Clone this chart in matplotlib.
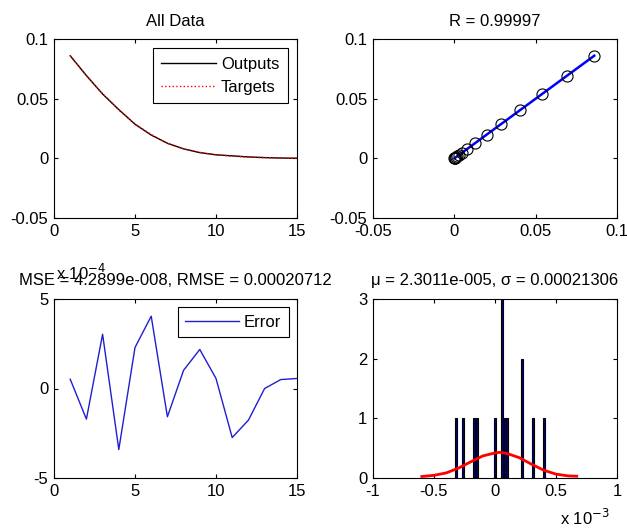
import numpy as np
import matplotlib
matplotlib.use("Agg")
import matplotlib.pyplot as plt

plt.rcParams['font.family'] = ['Liberation Sans', 'DejaVu Sans']
plt.rcParams['font.size'] = 12
plt.rcParams['axes.unicode_minus'] = False

# sample index
steps = np.arange(1, 16)

targets = np.array([0.0860, 0.0692, 0.0542, 0.0405, 0.0288, 0.0199, 0.0125, 0.0080,
                    0.0050, 0.0030, 0.0018, 0.0010, 0.0006, 0.0003, 0.0001])

# error (x 1e-4)
errors_e4 = np.array([0.52, -1.71, 3.03, -3.41, 2.29, 4.04, -1.58, 1.02,
                      2.18, 0.56, -2.74, -1.77, 0.0, 0.50, 0.56])
outputs = targets - errors_e4 * 1e-4

# histogram bars (x 1e-3) and counts
hist_centers = [-0.32, -0.26, -0.17, -0.15, 0.00, 0.06, 0.08, 0.10, 0.22, 0.31, 0.40]
hist_counts = [1, 1, 1, 1, 1, 3, 1, 1, 2, 1, 1]

# fitted normal curve (x 1e-3)
fit_x = [-0.60, -0.50, -0.40, -0.30, -0.20, -0.10, 0.00, 0.04, 0.10, 0.20, 0.30, 0.40, 0.50, 0.60, 0.67]
fit_y = [0.025, 0.045, 0.085, 0.165, 0.27, 0.37, 0.42, 0.43, 0.41, 0.34, 0.23, 0.13, 0.065, 0.035, 0.03]

fig = plt.figure(figsize=(6.27, 5.28), dpi=100)
fig.patch.set_facecolor('white')

W, H = 627.0, 528.0
def box(l, t, r, b):
    return [l / W, 1 - b / H, (r - l) / W, (b - t) / H]

ax1 = fig.add_axes(box(54, 39, 297, 218))
ax2 = fig.add_axes(box(373, 39, 617, 218))
ax3 = fig.add_axes(box(54, 299, 297, 478))
ax4 = fig.add_axes(box(373, 299, 617, 478))

for ax in (ax1, ax2, ax3, ax4):
    ax.tick_params(direction='in', length=3, width=0.8, top=True, right=True,
                   labelsize=12, pad=4)
    for s in ax.spines.values():
        s.set_linewidth(0.8)

# --- All Data
ax1.plot(steps, outputs, color='k', lw=1, label='Outputs')
ax1.plot(steps, targets, color='r', lw=1, ls=':', label='Targets')
ax1.set_xlim(0, 15)
ax1.set_ylim(-0.05, 0.1)
ax1.set_xticks([0, 5, 10, 15])
ax1.set_yticks([-0.05, 0, 0.05, 0.1])
ax1.set_yticklabels(['-0.05', '0', '0.05', '0.1'])
ax1.set_title('All Data', fontsize=12, pad=9)
leg = ax1.legend(loc='upper right', fancybox=False, edgecolor='k', framealpha=1,
                 handlelength=3.3, borderaxespad=0.55, labelspacing=0.5,
                 handletextpad=0.3, borderpad=0.5)
leg.get_frame().set_linewidth(0.8)

# --- regression
coef = np.polyfit(targets, outputs, 1)
lx = np.array([targets.min(), targets.max()])
ax2.plot(lx, np.polyval(coef, lx), color='b', lw=1.8)
ax2.plot(targets, outputs, 'o', mfc='none', mec='k', ms=8, mew=0.8)
ax2.set_xlim(-0.05, 0.1)
ax2.set_ylim(-0.05, 0.1)
ax2.set_xticks([-0.05, 0, 0.05, 0.1])
ax2.set_xticklabels(['-0.05', '0', '0.05', '0.1'])
ax2.set_yticks([-0.05, 0, 0.05, 0.1])
ax2.set_yticklabels(['-0.05', '0', '0.05', '0.1'])
ax2.set_title('R = 0.99997', fontsize=12, pad=9)

# --- error
ax3.plot(steps, errors_e4, color='#1f1fd0', lw=1, label='Error')
ax3.set_xlim(0, 15)
ax3.set_ylim(-5, 5)
ax3.set_xticks([0, 5, 10, 15])
ax3.set_yticks([-5, 0, 5])
ax3.set_title('MSE = 4.2899e-008, RMSE = 0.00020712', fontsize=12, pad=10)
ax3.text(0.01, 1.105, r'x 10$^{-4}$', transform=ax3.transAxes, fontsize=12,
         ha='left', va='baseline')
leg3 = ax3.legend(loc='upper right', fancybox=False, edgecolor='k', framealpha=1,
                  handlelength=3.2, borderaxespad=0.5, handletextpad=0.3, borderpad=0.45)
leg3.get_frame().set_linewidth(0.8)

# --- histogram
ax4.bar(hist_centers, hist_counts, width=0.018, color='#00008f', edgecolor='k', lw=0.8)
ax4.plot(fit_x, fit_y, color='r', lw=2)
ax4.set_xlim(-1, 1)
ax4.set_ylim(0, 3)
ax4.set_xticks([-1, -0.5, 0, 0.5, 1])
ax4.set_xticklabels(['-1', '-0.5', '0', '0.5', '1'])
ax4.set_yticks([0, 1, 2, 3])
ax4.set_title('\u03bc = 2.3011e-005, \u03c3 = 0.00021306', fontsize=12, pad=10)
fig.text(610 / W, 1 - 525 / H, r'x 10$^{-3}$', fontsize=12, ha='right', va='baseline')

fig.savefig('out.png', dpi=100, facecolor='white')
